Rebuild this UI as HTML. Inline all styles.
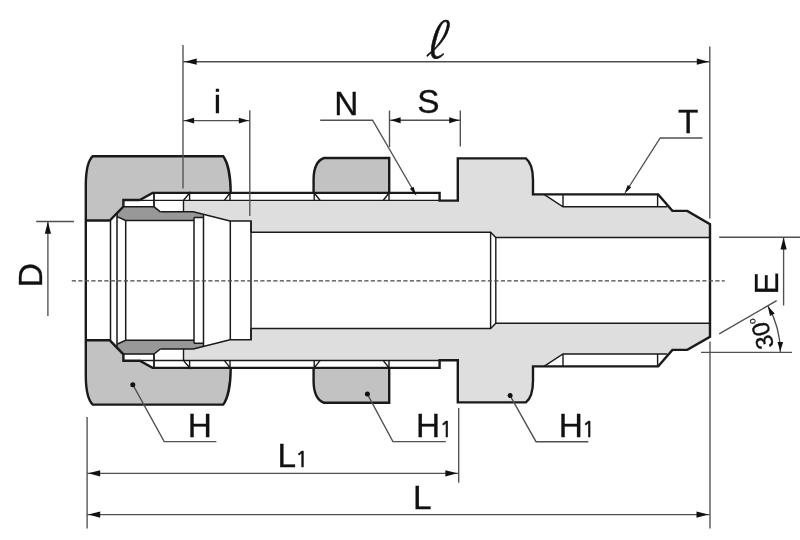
<!DOCTYPE html>
<html lang="en"><head><meta charset="utf-8"><title>Bulkhead union drawing</title>
<style>
html,body{margin:0;padding:0;background:#fff;}
svg{display:block;will-change:transform;}
</style></head>
<body>
<svg width="800" height="540" viewBox="0 0 800 540">
<rect width="800" height="540" fill="#fff"/>
<defs>
<g id="half" stroke-linejoin="miter" stroke-linecap="butt">
  <!-- body fill -->
  <path fill="#dedede" stroke="none" d="M183.5 200.3 H439.6 V200.6 H457.8 V158.4 H525.9 C530.5 162 533 170 533 180 V194.4 H544 L563 206.8 H667.2 L672.4 210.9 H687.3 L709.5 224.1 V237.5 H495.8 L490.6 232.3 H251 V221.1 H230 L193.3 212 H183.5 Z"/>
  <!-- big nut fill -->
  <path fill="#c2c2c2" stroke="none" d="M85.8 220.5 V184 C86 170 88.5 160 92.8 156.2 H223.2 C227.5 162 230.7 176 230.7 192.9 H152.6 L139.7 200 H123.4 V206.5 L109.8 220.5 Z"/>
  <!-- lock nut fill -->
  <path fill="#c2c2c2" stroke="none" d="M313.6 192.9 V179 C313.8 168 317 160.5 324 158 H389.2 V192.9 Z"/>
  <!-- ferrule fill -->
  <path fill="#989898" stroke="none" d="M123.4 206.5 H154 L160.4 211.8 H193.3 L203.5 214.5 V217.5 H194 V220.5 H125.7 L117 216.6 V213.1 Z"/>

  <!-- thin lines -->
  <g fill="none" stroke="#1a1a1a" stroke-width="1.4">
    <path d="M139.7 200.35 H439.6"/>
    <path d="M183.5 200.2 V212"/>
    <path d="M183.6 200.2 L189.6 193 V200.2"/>
    <path d="M224.5 200.2 L230 193 V200.2"/>
    <path d="M314.2 193 V200.2 M314.2 193 L320 200.2"/>
    <path d="M389 193 V200.2 M389 193 L383.3 200.2"/>
    <path d="M544 194.4 L563 206.8 H667.2 M563 194.4 V206.8 M657.6 194.4 V206.8"/>
    <path d="M709 237.5 H495.8 L490.6 232.3 H251"/>
    <path d="M490.6 232.3 V280.4 M495.8 237.5 V280.4"/>
  </g>
  <g fill="none" stroke="#1a1a1a" stroke-width="1.5">
    <path d="M160.4 211.8 H193.3 L230 221.1 H251 V232.3"/>
    <path d="M123.4 206.8 H154 L160.4 211.8"/>
    <path d="M154 193 V206.8" stroke-width="1.8"/>
    <path d="M125.7 220.5 H194 M194 217.5 H203.5"/>
    <path d="M117 216.6 L125.7 220.5"/>
    <path d="M110.5 220.5 V280.4 M117 214 V280.4 M125.7 220.5 V280.4 M194 217.5 V280.4 M203.5 214.5 V280.4 M230.3 221.1 V280.4 M251 221.1 V280.4"/>
  </g>
  <!-- thick outlines -->
  <g fill="none" stroke="#1a1a1a" stroke-width="2.4">
    <path d="M85.8 280.4 V184 C86 170 88.5 160 92.8 156.2 H223.2 C227.5 162 230.7 176 230.7 192.9"/>
    <path d="M85.8 220.5 H109.8 L123.4 206.5 V200 H139.7 L152.6 192.9 H439.6 V200.6 H457.8 V158.4 H525.9 C530.5 162 533 170 533 180 V194.4 H658.2 L672.4 210.9 H687.3 L710 224.1 V280.4"/>
    <path d="M313.6 192.9 V179 C313.8 168 317 160.5 324 158 H389.2 V192.9"/>
  </g>
</g>
</defs>
<use href="#half"/>
<use href="#half" transform="translate(0 560.8) scale(1 -1)"/>

<g fill="none" stroke="#505050" stroke-width="1.35">
  <!-- centre line -->
  <path d="M71.8 280.9 H724.7" stroke="#444" stroke-width="1.3" stroke-dasharray="4.2 2.3"/>
  <!-- ell -->
  <path d="M183 45 V188.5 M709.8 46.6 V218.5 M183 61.7 H709.5"/>
  <!-- i -->
  <path d="M249.8 110.3 V216 M183 120.6 H249.8"/>
  <!-- N leader -->
  <path d="M320.2 120.2 H372.6 L414.5 192.5"/>
  <!-- S -->
  <path d="M389.5 110.6 V147 M460.3 110.6 V146.5 M389.5 120.2 H460.3"/>
  <!-- T leader -->
  <path d="M702.5 138 H660.2 L627 190"/>
  <!-- D -->
  <path d="M36.2 221.5 H74 M47.9 222 V316"/>
  <!-- E -->
  <path d="M719.2 237.2 H800 M783.6 238 V305.6"/>
  <!-- 30 deg -->
  <path d="M719.2 333.9 L776.7 300.6 M701 352.4 H792 M710 341.4 V528.5"/>
  <path d="M780.3 352 A92.4 92.4 0 0 0 767.9 305.8"/>
  <!-- H leaders -->
  <path d="M132.8 384.7 L164.2 441.6 H216.4"/>
  <path d="M367.4 394.1 L392.9 441.6 H445.8"/>
  <path d="M510.1 395.6 L536 441.7 H588.3"/>
  <!-- L1, L -->
  <path d="M87.1 417 V528.5 M458.7 408 V482.8 M87 473.3 H458.7 M87 514.6 H709.8"/>
</g>
<g>
  <path fill="#111" stroke="none" transform="translate(184.7 61.7) rotate(180)" d="M0 0 L-12 -3.1 L-12 3.1 Z"/><path fill="#111" stroke="none" transform="translate(708.8 61.7) rotate(0)" d="M0 0 L-12 -3.1 L-12 3.1 Z"/>
  <path fill="#111" stroke="none" transform="translate(184.3 120.6) rotate(180)" d="M0 0 L-9.8 -2.95 L-9.8 2.95 Z"/><path fill="#111" stroke="none" transform="translate(248.6 120.6) rotate(0)" d="M0 0 L-9.8 -2.95 L-9.8 2.95 Z"/>
  <path fill="#111" stroke="none" transform="translate(390.8 120.2) rotate(180)" d="M0 0 L-9.8 -2.95 L-9.8 2.95 Z"/><path fill="#111" stroke="none" transform="translate(459 120.2) rotate(0)" d="M0 0 L-9.8 -2.95 L-9.8 2.95 Z"/>
  <path fill="#111" stroke="none" transform="translate(416.5 196) rotate(59.8)" d="M0 0 L-9.5 -2.1 L-9.5 2.1 Z"/>
  <path fill="#111" stroke="none" transform="translate(624.3 194) rotate(122.8)" d="M0 0 L-9.5 -2.1 L-9.5 2.1 Z"/>
  <path fill="#111" stroke="none" transform="translate(47.9 221.8) rotate(-90)" d="M0 0 L-12 -3.1 L-12 3.1 Z"/>
  <path fill="#111" stroke="none" transform="translate(783.6 237.6) rotate(-90)" d="M0 0 L-12 -3.1 L-12 3.1 Z"/>
  <path fill="#111" stroke="none" transform="translate(780.3 351.5) rotate(90)" d="M0 0 L-9.5 -2.8 L-9.5 2.8 Z"/>
  <path fill="#111" stroke="none" transform="translate(767.9 306.3) rotate(-118)" d="M0 0 L-9.5 -2.7 L-9.5 2.7 Z"/>
  <path fill="#111" stroke="none" transform="translate(88.2 473.3) rotate(180)" d="M0 0 L-12 -3.1 L-12 3.1 Z"/><path fill="#111" stroke="none" transform="translate(457.4 473.3) rotate(0)" d="M0 0 L-12 -3.1 L-12 3.1 Z"/>
  <path fill="#111" stroke="none" transform="translate(88.2 514.6) rotate(180)" d="M0 0 L-12 -3.1 L-12 3.1 Z"/><path fill="#111" stroke="none" transform="translate(708.5 514.6) rotate(0)" d="M0 0 L-12 -3.1 L-12 3.1 Z"/>
  <circle cx="132.8" cy="384.7" r="2.5" fill="#111"/>
  <circle cx="367.4" cy="394.1" r="2.5" fill="#111"/>
  <circle cx="510.1" cy="395.6" r="2.5" fill="#111"/>
</g>


<g font-family="'Liberation Sans', Arial, sans-serif" font-size="33.4" fill="#111" stroke="#111" stroke-width="0.32">
  <text x="217.4" y="112.6" text-anchor="middle">i</text>
  <text x="346.3" y="115.3" text-anchor="middle">N</text>
  <text x="428.3" y="113.4" text-anchor="middle">S</text>
  <text x="688.3" y="133.2" text-anchor="middle">T</text>
  <text transform="translate(41.8 275.2) rotate(-90)" text-anchor="middle">D</text>
  <text transform="translate(778.2 283.3) rotate(-90)" text-anchor="middle">E</text>
  <text x="199.9" y="436.9" text-anchor="middle">H</text>
  <text x="416" y="437.3">H<tspan font-family="NanumGothic, 'Liberation Sans', sans-serif" font-size="21" stroke-width="0.7" dx="-0.5">1</tspan></text>
  <text x="558.7" y="437.3">H<tspan font-family="NanumGothic, 'Liberation Sans', sans-serif" font-size="21" stroke-width="0.7" dx="-0.5">1</tspan></text>
  <text x="277.4" y="467.1">L<tspan font-family="NanumGothic, 'Liberation Sans', sans-serif" font-size="21" stroke-width="0.7" dx="-0.5">1</tspan></text>
  <text x="412.9" y="508.8">L</text>
  <text transform="translate(774.3 346.6) rotate(-105)" font-size="24.3" stroke-width="0.35">30<tspan font-size="10" dy="-11.5" dx="0.3" stroke-width="0.2">o</tspan></text>
</g>
<text transform="translate(434.2 58.3) skewX(-15) scale(0.8 1)" text-anchor="middle" font-family="'Noto Serif CJK SC', 'DejaVu Serif', serif" font-size="46.5" fill="#111" stroke="#111" stroke-width="0.7">ℓ</text>

</svg>
</body></html>
